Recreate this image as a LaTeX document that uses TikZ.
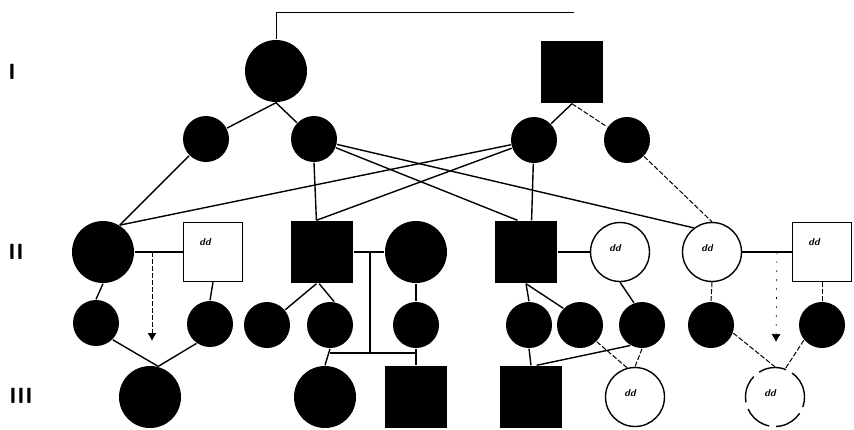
\documentclass[tikz,border=0pt]{standalone}
\usepackage{tikz}
\usetikzlibrary{arrows.meta}

\begin{document}
\begin{tikzpicture}[x=1pt, y=-1pt, line width=1.4pt,
    bigf/.style={circle, fill=black, inner sep=0, minimum size=62pt},
    smf/.style={circle, fill=black, inner sep=0, minimum size=46pt},
    bigm/.style={rectangle, fill=black, inner sep=0, minimum size=62pt},
    ddtxt/.style={font=\sffamily\bfseries\itshape\normalsize, inner sep=0},
    opensq/.style={rectangle, draw, inner sep=0, minimum size=59pt, label={[ddtxt, shift={(-8pt,10pt)}]center:dd}},
    openc/.style={circle, draw, inner sep=0, minimum size=59pt, label={[ddtxt, shift={(-5pt,4pt)}]center:dd}},
    gen/.style={font=\sffamily\bfseries\fontsize{22}{22}\selectfont, inner sep=0},
    hint/.style={dash pattern=on 5pt off 2pt, line width=1pt},
    faint/.style={dash pattern=on 2pt off 7pt, line width=0.6pt}]
      \useasboundingbox (0,0) rectangle (854,429);
      % generation labels
      \node[gen] (gI) at (12,72) {I};
      \node[gen] (gII) at (16,252) {II};
      \node[gen] (gIII) at (21,396) {III};
      % generation I
      \node[bigf] (A) at (276,71) {};
      \node[bigm] (B) at (572,72) {};
      \node[smf] (c1) at (206,139) {};
      \node[smf] (c2) at (314,139) {};
      \node[smf] (c3) at (534,140) {};
      \node[smf] (c4) at (627,140) {};
      % generation II
      \node[bigf] (D) at (103,252) {};
      \node[opensq] (E) at (213,252) {};
      \node[bigm] (F) at (322,252) {};
      \node[bigf] (G) at (416,252) {};
      \node[bigm] (H) at (526,252) {};
      \node[openc] (I) at (620,252) {};
      \node[openc] (J) at (712,252) {};
      \node[opensq] (K) at (822,252) {};
      \node[smf] (d1) at (96,323) {};
      \node[smf] (d2) at (210,324) {};
      \node[smf] (d3) at (267,325) {};
      \node[smf] (d4) at (330,325) {};
      \node[smf] (d5) at (416,325) {};
      \node[smf] (e1) at (529,325) {};
      \node[smf] (e2) at (580,325) {};
      \node[smf] (e3) at (642,325) {};
      \node[smf] (e4) at (711,325) {};
      \node[smf] (e5) at (822,325) {};
      % generation III
      \node[bigf] (f1) at (150,397) {};
      \node[bigf] (f2) at (325,397) {};
      \node[bigm] (f3) at (416,397) {};
      \node[bigm] (g1) at (531,397) {};
      \node[openc] (g2) at (635,397) {};
      \node[openc, dash pattern=on 28pt off 7pt] (g3) at (775,397) {};
      \coordinate (t2) at (574,12);
      \coordinate (m1) at (152,252);
      \coordinate (a1) at (152,341);
      \coordinate (m2) at (777,252);
      \coordinate (a2) at (776,342);
      \coordinate (s1) at (370,252);
      \coordinate (s2) at (370,353);
      % connectors
      \draw[line width=1pt] (A.north) |- (t2);
      \draw (A.south) -- (c1);
      \draw (A.south) -- (c2);
      \draw (B.south) -- (c3);
      \draw[hint] (B.south) -- (c4);
      \draw (c1) -- (D.58);
      \draw (c3) -- (D.58);
      \draw (c2.south) -- (F.100);
      \draw (c3) -- (F.100);
      \draw (c2) -- (H.105);
      \draw (c2) -- (J.127);
      \draw (c3) -- (H.80);
      \draw[hint] (c4) -- (J.north);
      \draw (D.east) -- (E.west);
      \draw (F.east) -- (G.west);
      \draw (H.east) -- (I.west);
      \draw (J.east) -- (K.west);
      \draw[hint, -{Latex[length=8pt, width=9pt]}] (m1) -- (a1);
      \draw[faint, -{Latex[length=8pt, width=9pt]}] (m2) -- (a2);
      \draw (D.south) -- (d1.north);
      \draw (E.south) -- (d2.north);
      \draw (F.260) -- (d3);
      \draw (F.265) -- (d4.80);
      \draw (G.south) -- (d5.north);
      \draw (s1) -- (s2);
      \draw (d4.south |- s2) -- (d5.south |- s2);
      \draw (d4.south) -- (f2.north);
      \draw (d5.south) -- (f3.north);
      \draw (H.south) -- (e1.north);
      \draw (H.south) -- (e2.north west);
      \draw (I.south) -- (e3.110);
      \draw[hint] (J.south) -- (e4.north);
      \draw[hint] (K.south) -- (e5.north);
      \draw (d1.south east) -- (f1.75);
      \draw (d2.235) -- (f1.75);
      \draw (e1.south) -- (g1.north);
      \draw (g1.80) -- (e3.240);
      \draw[hint] (e2.south east) -- (g2.105);
      \draw[hint] (e3.south) -- (g2.north);
      \draw[hint] (e4.-20) -- (g3.north);
      \draw[hint] (e5.220) -- (g3.70);
    \end{tikzpicture}
\end{document}
